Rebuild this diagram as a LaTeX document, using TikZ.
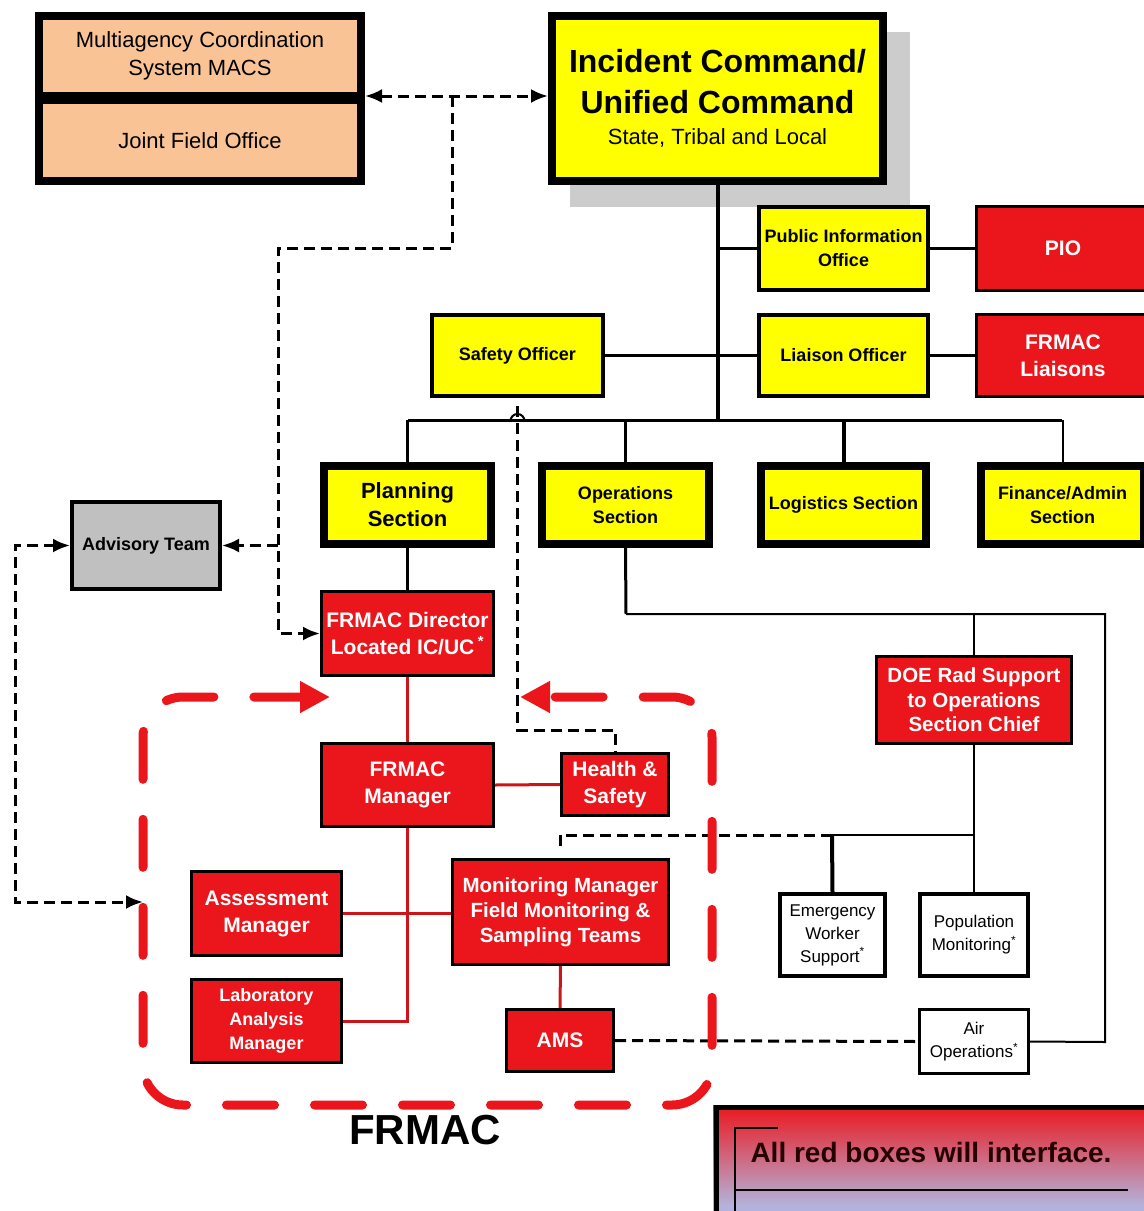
\documentclass[tikz,border=0pt]{standalone}
\usepackage{fontspec}
\setmainfont{Liberation Sans}
\usetikzlibrary{arrows.meta}

\definecolor{icyellow}{RGB}{255,255,0}
\definecolor{frred}{RGB}{235,22,28}
\definecolor{linkred}{RGB}{205,20,24}
\definecolor{peach}{RGB}{250,195,150}
\definecolor{advgray}{RGB}{192,192,192}
\definecolor{shadowgray}{RGB}{204,204,204}
\definecolor{lavender}{RGB}{180,178,218}

\begin{document}
\begin{tikzpicture}[x=1pt, y=-1pt,
	box/.style={draw, rectangle, align=center, inner sep=2pt},
	ybox/.style={box, fill=icyellow, line width=4pt, font=\bfseries\fontsize{18}{24}\selectfont},
	sect/.style={ybox, line width=8pt, minimum width=167pt, minimum height=78pt},
	rbox/.style={box, fill=frred, text=white, line width=3pt, font=\bfseries\fontsize{21}{27}\selectfont},
	wbox/.style={box, fill=white, line width=4pt, font=\fontsize{17}{23}\selectfont},
	bline/.style={line width=3pt},
	tline/.style={line width=2pt},
	rline/.style={line width=3pt, draw=linkred},
	dline/.style={line width=3pt, dash pattern=on 11pt off 6pt, >={Latex[length=17pt,width=14pt]}},
	frame/.style={line width=9pt, draw=frred, line cap=round, dash pattern=on 48pt off 40pt, rounded corners=40pt}]
	
	\useasboundingbox (0,0) rectangle (1144,1211);
	
	\fill[shadowgray] (570,32) rectangle (910,207);
	\node[box, fill=icyellow, line width=8pt, minimum width=331pt, minimum height=165pt, font=\bfseries\fontsize{32}{41}\selectfont] (ic) at (717.5,98.5) {Incident Command/\\Unified Command\\[-10pt]{\mdseries\fontsize{22}{26}\selectfont State, Tribal and Local}};
	
	\node[box, fill=peach, line width=8pt, minimum width=322pt, minimum height=80pt, font=\fontsize{22}{28}\selectfont] (macs) at (200,56) {Multiagency Coordination\\System MACS};
	\node[box, fill=peach, line width=8pt, minimum width=322pt, minimum height=81pt, font=\fontsize{22}{28}\selectfont] (jfo) at (200,140.5) {Joint Field Office};
	
	\node[ybox, minimum width=169pt, minimum height=83pt] (pio) at (843.5,248.5) {Public Information\\Office};
	\node[ybox, minimum width=169pt, minimum height=81pt] (liaison) at (843.5,355.5) {Liaison Officer};
	\node[ybox, minimum width=171pt, minimum height=81pt] (safe) at (517.5,355.5) {Safety Officer};
	\node[rbox, minimum width=174pt, minimum height=84pt] (piored) at (1063,248.5) {PIO};
	\node[rbox, minimum width=174pt, minimum height=82pt] (liaisons) at (1063,355.5) {FRMAC\\Liaisons};
	
	\node[sect, font=\bfseries\fontsize{22}{28}\selectfont] (plan) at (407.5,505) {Planning\\Section};
	\node[sect] (ops) at (625.5,505) {Operations\\Section};
	\node[sect, minimum width=165pt] (logi) at (843.5,505) {Logistics Section};
	\node[sect, minimum width=163pt] (fin) at (1062.5,505) {Finance/Admin\\Section};
	
	\node[ybox, fill=advgray, minimum width=148pt, minimum height=87pt] (adv) at (146,545.5) {Advisory Team};
	
	\node[rbox, minimum width=172pt, minimum height=84pt] (dir) at (407.5,633.5) {FRMAC Director\\Located IC/UC\,\textsuperscript{*}};
	\node[rbox, minimum width=172pt, minimum height=83pt] (mgr) at (407.5,785) {FRMAC\\Manager};
	\node[rbox, minimum width=107pt, minimum height=62pt] (hs) at (615,784.5) {Health \&\\Safety};
	\node[rbox, minimum width=150pt, minimum height=84pt] (assess) at (266.5,913.5) {Assessment\\Manager};
	\node[rbox, minimum width=150pt, minimum height=83pt, font=\bfseries\fontsize{18}{24}\selectfont] (lab) at (266.5,1021) {Laboratory\\Analysis\\Manager};
	\node[rbox, minimum width=216pt, minimum height=105pt, font=\bfseries\fontsize{20.5}{25}\selectfont] (mon) at (560.5,912) {Monitoring Manager\\Field Monitoring \&\\Sampling Teams};
	\node[rbox, minimum width=107pt, minimum height=62pt] (ams) at (560,1040.5) {AMS};
	\node[rbox, minimum width=195pt, minimum height=87pt, font=\bfseries\fontsize{20.5}{24.5}\selectfont] (doe) at (974,700) {DOE Rad Support\\to Operations\\Section Chief};
	
	\node[wbox, minimum width=105pt, minimum height=82pt] (ews) at (832.5,935) {Emergency\\Worker\\Support\textsuperscript{*}};
	\node[wbox, minimum width=108pt, minimum height=82pt] (pop) at (974,935) {Population\\Monitoring\textsuperscript{*}};
	\node[wbox, line width=3pt, minimum width=109pt, minimum height=64pt] (air) at (974,1041.5) {Air\\Operations\textsuperscript{*}};
	
	\node[font=\bfseries\fontsize{42}{42}\selectfont] (frmac) at (425,1130) {FRMAC};
	
	\coordinate (busL) at (408,420);
	\coordinate (busR) at (1062,420);
	\coordinate (opsbus) at (626,614);
	\coordinate (doetap) at (832,835);
	\coordinate (tapmacs) at (452,96);
	\coordinate (tapadv) at (278,545.5);
	\coordinate (frameW) at (143,902);
	
	\draw[line width=4pt] (ic.south) -- (ic.south |- busL);
	\draw[bline] (ic.south |- pio.west) -- (pio.west);
	\draw[bline] (pio.east) -- (piored.west);
	\draw[bline] (safe.east) -- (liaison.west);
	\draw[bline] (liaison.east) -- (liaisons.west);
	\draw[bline] (busL) -- (busR);
	\draw[bline] (plan.north) -- (plan.north |- busL);
	\draw[bline] (ops.north) -- (ops.north |- busL);
	\draw[line width=4pt] (logi.north) -- (logi.north |- busL);
	\draw[tline] (fin.north) -- (fin.north |- busL);
	\draw[bline] (plan.south) -- (dir.north);
	
	\draw[bline] (ops.south) -- (opsbus);
	\draw[tline] (opsbus) -- (1105,614) -- (1105,1042) -- (air.east);
	\draw[tline] (doe.north |- opsbus) -- (doe.north);
	\draw[tline] (doe.south) -- (pop.north);
	\draw[tline] (doe.south |- doetap) -- (doetap);
	\draw[line width=4pt] (doetap) -- (ews.north);
	
	\draw[rline] (dir.south) -- (mgr.north);
	\draw[rline] (mgr.east) -- (hs.west);
	\draw[rline] (mgr.south) |- (lab.east);
	\draw[rline] (assess.east) -- (assess.east -| mon.west);
	\draw[rline] (mon.south) -- (ams.north);
	
	\draw[dline, <->] ([yshift=4pt]macs.south east) -- (ic.west |- tapmacs);
	\draw[dline, ->] (tapmacs) -- (452,248) -- (278,248) |- (dir.west);
	\draw[dline, ->] (tapadv) -- (adv.east);
	\draw[dline, <->] (adv.west) -- (15,545.5) -- (15,902) -- (frameW);
	\draw[dline] ([yshift=-8pt]safe.south) -- (517.5,730) -- (615,730) -- (hs.north);
	\draw[line width=2pt] (510.5,421) arc[start angle=180, end angle=0, radius=7pt];
	\draw[dline] (doetap) -- (560,835) -- (560,852);
	\draw[dline] (ams.east) -- (air.west);
	
	\draw[frame, {Triangle[length=30pt,width=30pt]}-{Triangle[length=30pt,width=30pt]}] (330,697) -- (143,697) -- (143,1105) -- (712,1105) -- (712,697) -- (520,697);
	
	\shade[top color=frred, bottom color=lavender] (713,1105) rectangle (1144,1205);
	\fill[lavender] (713,1204) rectangle (1144,1212);
	\draw[line width=5pt] (716,1212) -- (716,1107.5) -- (1146,1107.5);
	\draw[line width=1.5pt] (735,1212) -- (735,1128) -- (778,1128);
	\draw[line width=1.5pt] (735,1190) -- (1128,1190);
	\node[font=\bfseries\fontsize{28}{28}\selectfont, text=black!85!red] (note) at (931,1152) {All red boxes will interface.};
	
\end{tikzpicture}
\end{document}
